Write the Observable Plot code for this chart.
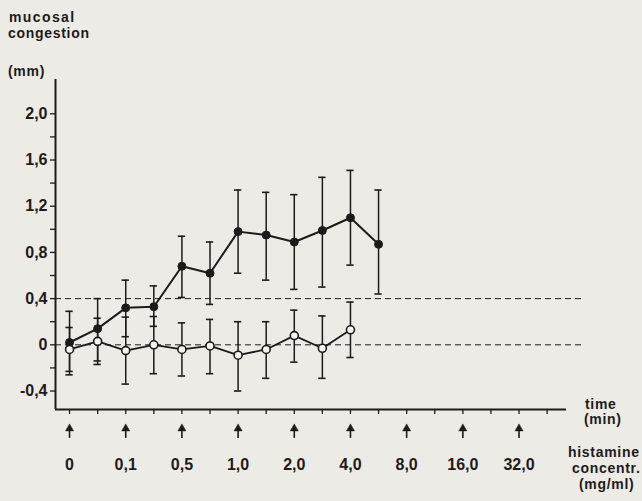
<!DOCTYPE html>
<html>
<head>
<meta charset="utf-8">
<script src="https://cdn.jsdelivr.net/npm/d3@7"></script>
<script src="https://cdn.jsdelivr.net/npm/@observablehq/plot@0.6"></script>
<style>
  html, body { margin: 0; padding: 0; background: #ecebe6; }
  #wrap { position: relative; width: 642px; height: 501px; overflow: hidden; background: #ecebe6; }
  .lbl { position: absolute; font-family: "Liberation Sans", Arial, sans-serif; font-weight: bold;
         font-size: 14px; line-height: 14px; color: #1e1a1a; letter-spacing: 0.7px; white-space: nowrap; }
</style>
</head>
<body>
<div id="wrap"></div>
<script>
// ---- data ----
// measurement positions along the time axis (tick index)
const timeIndex = [0, 1, 2, 3, 4, 5, 6, 7, 8, 9, 10, 11, 12, 13, 14, 15, 16, 17];
// histamine series (filled circles): mean and error bar bounds
const histMean = [0.02, 0.14, 0.32, 0.33, 0.68, 0.62, 0.98, 0.95, 0.89, 0.99, 1.10, 0.87];
const histHi   = [0.29, 0.40, 0.56, 0.51, 0.94, 0.89, 1.34, 1.32, 1.30, 1.45, 1.51, 1.34];
const histLo   = [-0.26, -0.14, 0.07, 0.16, 0.41, 0.35, 0.62, 0.56, 0.48, 0.50, 0.69, 0.44];
// control series (open circles)
const ctrlMean = [-0.04, 0.03, -0.05, 0.00, -0.04, -0.01, -0.09, -0.04, 0.08, -0.03, 0.13];
const ctrlHi   = [0.15, 0.23, 0.24, 0.245, 0.19, 0.22, 0.20, 0.20, 0.30, 0.25, 0.37];
const ctrlLo   = [-0.23, -0.17, -0.34, -0.25, -0.27, -0.25, -0.40, -0.29, -0.15, -0.29, -0.11];
// histamine doses given at these tick indices
const doseIndex  = [0, 2, 4, 6, 8, 10, 12, 14, 16];
const doseLabels = ["0", "0,1", "0,5", "1,0", "2,0", "4,0", "8,0", "16,0", "32,0"];
// y axis ticks
const yTicks = [-0.4, -0.2, 0, 0.2, 0.4, 0.6, 0.8, 1.0, 1.2, 1.4, 1.6, 1.8, 2.0];
const yLabelValues = [-0.4, 0, 0.4, 0.8, 1.2, 1.6, 2.0];
const yLabels = ["-0,4", "0", "0,4", "0,8", "1,2", "1,6", "2,0"];
// reference (dashed) lines
const refLines = [0, 0.4];

// ---- build tables ----
const hist = histMean.map((v, i) => ({t: timeIndex[i], v, lo: histLo[i], hi: histHi[i]}));
const ctrl = ctrlMean.map((v, i) => ({t: timeIndex[i], v, lo: ctrlLo[i], hi: ctrlHi[i]}));
const doses = doseIndex.map((t, i) => ({t, label: doseLabels[i]}));
const yLabelMap = new Map(yLabelValues.map((v, i) => [v.toFixed(1), yLabels[i]]));
const doseLabelMap = new Map(doses.map(d => [d.t, d.label]));

const ink = "#1e1a1a";
const xDomain = [-0.5, 17.69];
const yDomain = [-0.56, 2.297];
const capHalf = 0.13;

const arrowBottom = -0.81, arrowTop = -0.725;

const chart = Plot.plot({
  width: 642,
  height: 501,
  marginLeft: 55,
  marginRight: 76,
  marginTop: 79,
  marginBottom: 92,
  style: {background: "transparent", color: ink, fontFamily: "'Liberation Sans', Arial, sans-serif", fontWeight: "bold", fontSize: "15px", overflow: "visible"},
  x: {domain: xDomain, axis: null},
  y: {domain: yDomain, axis: null},
  marks: [
    // dashed reference lines
    Plot.ruleY(refLines, {x1: xDomain[0], x2: 18.3, stroke: ink, strokeWidth: 1, strokeDasharray: "6,4"}),
    // axes lines
    Plot.ruleX([xDomain[0]], {stroke: ink, strokeWidth: 2}),
    Plot.ruleY([yDomain[0]], {stroke: ink, strokeWidth: 2}),
    // y axis ticks and labels
    Plot.axisY({ticks: yTicks, label: null, tickSize: 5, tickPadding: 3, stroke: ink, strokeWidth: 1.3,
      tickFormat: d => yLabelMap.get(d.toFixed(1)) ?? "", fontSize: 16, fill: ink, letterSpacing: "0.8px"}),
    // x axis ticks
    Plot.axisX({ticks: timeIndex, label: null, tickSize: 5, tickPadding: 0, tickFormat: () => "", stroke: ink, strokeWidth: 1.3}),
    // histamine dose labels
    Plot.axisX({ticks: doseIndex, label: null, tickSize: 0, tickPadding: 49, tickFormat: d => doseLabelMap.get(d), fontSize: 16, fill: ink, letterSpacing: "1px"}),
    // dose arrows
    Plot.ruleX(doses, {x: "t", y1: () => arrowBottom, y2: () => arrowTop, stroke: ink, strokeWidth: 1.6}),
    Plot.dot(doses, {x: "t", y: () => arrowTop, symbol: "triangle", r: 3, fill: ink, stroke: ink, strokeWidth: 0.5}),
    // error bars
    Plot.ruleX(ctrl, {x: "t", y1: "lo", y2: "hi", stroke: ink, strokeWidth: 1.5}),
    Plot.ruleY(ctrl, {y: "lo", x1: d => d.t - capHalf, x2: d => d.t + capHalf, stroke: ink, strokeWidth: 1.6}),
    Plot.ruleY(ctrl, {y: "hi", x1: d => d.t - capHalf, x2: d => d.t + capHalf, stroke: ink, strokeWidth: 1.6}),
    Plot.ruleX(hist, {x: "t", y1: "lo", y2: "hi", stroke: ink, strokeWidth: 1.5}),
    Plot.ruleY(hist, {y: "lo", x1: d => d.t - capHalf, x2: d => d.t + capHalf, stroke: ink, strokeWidth: 1.6}),
    Plot.ruleY(hist, {y: "hi", x1: d => d.t - capHalf, x2: d => d.t + capHalf, stroke: ink, strokeWidth: 1.6}),
    // lines
    Plot.line(hist, {x: "t", y: "v", stroke: ink, strokeWidth: 2}),
    Plot.line(ctrl, {x: "t", y: "v", stroke: ink, strokeWidth: 1.8}),
    // points
    Plot.dot(hist, {x: "t", y: "v", r: 4, fill: ink, stroke: ink, strokeWidth: 1}),
    Plot.dot(ctrl, {x: "t", y: "v", r: 4, fill: "#f7f6f2", stroke: ink, strokeWidth: 1.6})
  ]
});

const wrap = document.getElementById("wrap");
wrap.appendChild(chart);

const texts = [
  ["mucosal", 9, 10, 1.4],
  ["congestion", 8, 26, 0.7],
  ["(mm)", 8, 64, 0.7],
  ["time", 585, 397, 0.7],
  ["(min)", 584, 412, 0.7],
  ["histamine", 568, 445, 0.7],
  ["concentr.", 572, 461, 0.7],
  ["(mg/ml)", 579, 477, 0.7]
];
for (const [s, x, y, ls] of texts) {
  const d = document.createElement("div");
  d.className = "lbl";
  d.textContent = s;
  d.style.left = x + "px";
  d.style.top = y + "px";
  d.style.letterSpacing = ls + "px";
  wrap.appendChild(d);
}
</script>
</body>
</html>
